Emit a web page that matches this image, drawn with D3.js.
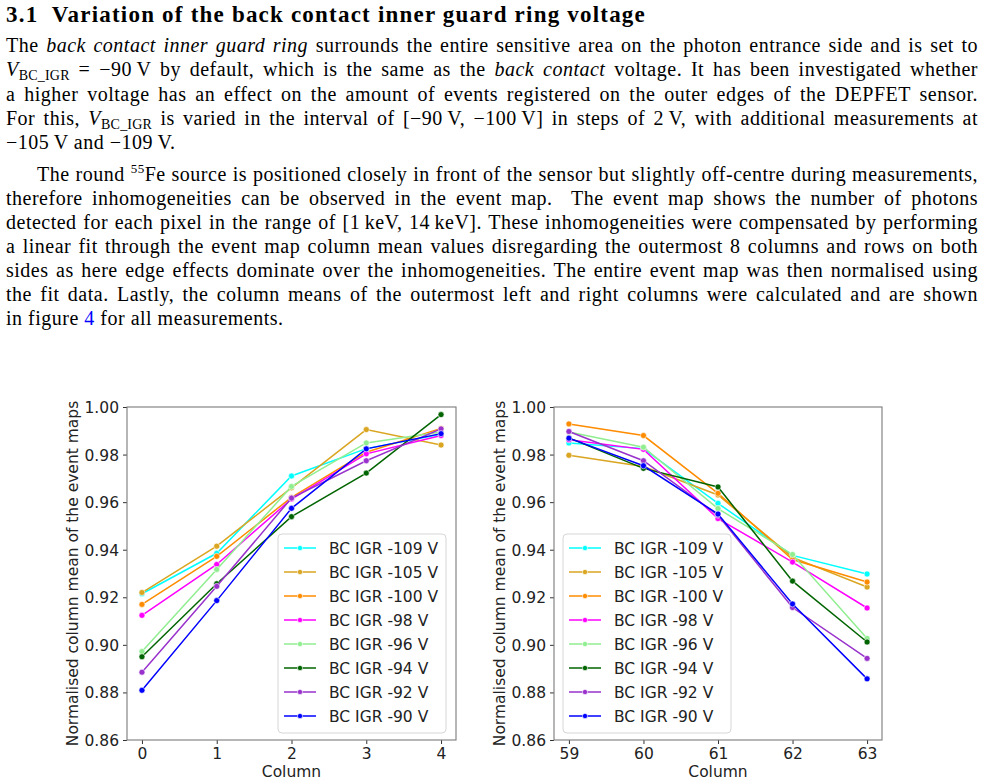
<!DOCTYPE html>
<html>
<head>
<meta charset="utf-8">
<script src="https://cdn.jsdelivr.net/npm/d3@7"></script>
<style>
    body { margin: 0; background: #fff; }
    #page { position: relative; width: 984px; height: 784px; overflow: hidden; }
    .txt { position: absolute; left: 6px; width: 972px; font-family: "Liberation Serif", serif; font-size: 20px; letter-spacing: 0.5px; color: #000; white-space: nowrap; }
    .just { text-align: justify; text-align-last: justify; }
    .txt sub { font-size: 14px; vertical-align: -4px; line-height: 0; letter-spacing: 0.2px; }
    .txt sup { font-size: 13px; vertical-align: 8px; line-height: 0; }
    h3 { position: absolute; left: 6px; top: 2px; margin: 0; font-family: "Liberation Serif", serif; font-size: 23px; font-weight: bold; white-space: nowrap; }
    #chart { position: absolute; left: 0; top: 0; }
    .tick text { font-family: "DejaVu Sans", sans-serif; font-size: 15.5px; fill: #222; }
</style>
</head>
<body>
<div id="page">
    <h3 id="head">3.1&nbsp; Variation of the back contact inner guard ring voltage</h3>
    <div class="txt fit" style="top:34px">The <i>back contact inner guard ring</i> surrounds the entire sensitive area on the photon entrance side and is set to</div>
    <div class="txt fit" style="top:58px"><i>V</i><sub>BC_IGR</sub> = &minus;90&thinsp;V by default, which is the same as the <i>back contact</i> voltage. It has been investigated whether</div>
    <div class="txt fit" style="top:83px">a higher voltage has an effect on the amount of events registered on the outer edges of the DEPFET sensor.</div>
    <div class="txt fit" style="top:107px">For this, <i>V</i><sub>BC_IGR</sub> is varied in the interval of [&minus;90&thinsp;V, &minus;100&thinsp;V] in steps of 2&thinsp;V, with additional measurements at</div>
    <div class="txt" style="top:131px">&minus;105&thinsp;V and &minus;109&thinsp;V.</div>

    <div class="txt fit" style="top:163px; left:37px; width:941px">The round <sup>55</sup>Fe source is positioned closely in front of the sensor but slightly off-centre during measurements,</div>
    <div class="txt fit" style="top:187px">therefore inhomogeneities can be observed in the event map.&nbsp; The event map shows the number of photons</div>
    <div class="txt fit" style="top:211px">detected for each pixel in the range of [1&thinsp;keV, 14&thinsp;keV]. These inhomogeneities were compensated by performing</div>
    <div class="txt fit" style="top:235px">a linear fit through the event map column mean values disregarding the outermost 8 columns and rows on both</div>
    <div class="txt fit" style="top:259px">sides as here edge effects dominate over the inhomogeneities. The entire event map was then normalised using</div>
    <div class="txt fit" style="top:283px">the fit data. Lastly, the column means of the outermost left and right columns were calculated and are shown</div>
    <div class="txt" style="top:307px">in figure <span style="color:#0000ff">4</span> for all measurements.</div>

    <svg id="chart" width="984" height="784"></svg>
</div>
<script>
// series (legend order)
const voltages = ["-109", "-105", "-100", "-98", "-96", "-94", "-92", "-90"]
const colors = ["#00ffff", "#daa520", "#ff8c00", "#ff00ff", "#90ee90", "#006400", "#9932cc", "#0000ff"]

const leftColumns = [0, 1, 2, 3, 4]
const rightColumns = [59, 60, 61, 62, 63]
const yTicks = [0.86, 0.88, 0.90, 0.92, 0.94, 0.96, 0.98, 1.00]

// normalised column means, one row per voltage
const leftMeans = [
    [0.9215, 0.9385, 0.9710, 0.9825, 0.9885],
    [0.9220, 0.9415, 0.9660, 0.9905, 0.9840],
    [0.9170, 0.9372, 0.9620, 0.9810, 0.9910],
    [0.9124, 0.9338, 0.9613, 0.9803, 0.9880],
    [0.8972, 0.9317, 0.9666, 0.9849, 0.9895],
    [0.8950, 0.9257, 0.9539, 0.9722, 0.9968],
    [0.8885, 0.9246, 0.9617, 0.9774, 0.9908],
    [0.8809, 0.9186, 0.9574, 0.9824, 0.9888]
]
const rightMeans = [
    [0.9849, 0.9825, 0.9595, 0.9376, 0.9298],
    [0.9797, 0.9750, 0.9630, 0.9368, 0.9243],
    [0.9929, 0.9880, 0.9637, 0.9359, 0.9264],
    [0.9862, 0.9822, 0.9531, 0.9348, 0.9155],
    [0.9895, 0.9831, 0.9573, 0.9380, 0.9027],
    [0.9870, 0.9742, 0.9664, 0.9268, 0.9012],
    [0.9897, 0.9774, 0.9545, 0.9157, 0.8943],
    [0.9869, 0.9753, 0.9550, 0.9172, 0.8857]
]

// squeeze the justified text lines so none of them overflows, then justify
function naturalWidth(el) {
    const r = document.createRange()
    r.selectNodeContents(el)
    return r.getBoundingClientRect().width
}
document.querySelectorAll(".fit").forEach(el => {
    const target = el.clientWidth
    const w = naturalWidth(el)
    if (w > target) {
        const n = el.textContent.length
        el.style.letterSpacing = (0.5 - (w - target + 4) / n) + "px"
    }
    el.classList.add("just")
})
// heading width as in the reference
const head = document.getElementById("head")
const hw = naturalWidth(head)
head.style.letterSpacing = ((640 - hw) / head.textContent.length) + "px"

const svg = d3.select("#chart")

function panel(box, columns, means) {
    const pad = (columns[columns.length - 1] - columns[0]) * 0.05
    const x = d3.scaleLinear()
        .domain([columns[0] - pad, columns[columns.length - 1] + pad])
        .range([box.left, box.right])
    const y = d3.scaleLinear().domain([0.86, 1.00]).range([box.bottom, box.top])

    const g = svg.append("g")

    // axes
    g.append("g")
        .attr("transform", `translate(0, ${box.bottom})`)
        .call(d3.axisBottom(x).tickValues(columns).tickFormat(d3.format("d")).tickSize(4).tickPadding(4))
        .call(a => a.select(".domain").remove())
        .call(a => a.selectAll("line").attr("stroke", "#333"))
    g.append("g")
        .attr("transform", `translate(${box.left}, 0)`)
        .call(d3.axisLeft(y).tickValues(yTicks).tickFormat(d3.format(".2f")).tickSize(4).tickPadding(4))
        .call(a => a.select(".domain").remove())
        .call(a => a.selectAll("line").attr("stroke", "#333"))
        .call(a => a.selectAll("text").attr("dy", "0.35em"))

    // frame
    g.append("rect")
        .attr("x", box.left).attr("y", box.top)
        .attr("width", box.right - box.left).attr("height", box.bottom - box.top)
        .attr("fill", "none").attr("stroke", "#7a7a7a").attr("stroke-width", 1.1)

    // lines + markers
    const line = d3.line().x((d, i) => x(columns[i])).y(d => y(d))
    means.forEach((row, k) => {
        g.append("path")
            .datum(row)
            .attr("d", line)
            .attr("fill", "none")
            .attr("stroke", colors[k])
            .attr("stroke-width", 1.5)
        g.selectAll(null).data(row).enter()
            .append("circle")
            .attr("cx", (d, i) => x(columns[i]))
            .attr("cy", d => y(d))
            .attr("r", 3)
            .attr("fill", colors[k])
            .attr("stroke", "#fff")
            .attr("stroke-width", 0.6)
    })

    // axis titles
    g.append("text")
        .attr("x", (box.left + box.right) / 2)
        .attr("y", box.bottom + 37)
        .attr("text-anchor", "middle")
        .style("font-family", "DejaVu Sans, sans-serif").style("font-size", "15.5px").attr("fill", "#222")
        .text("Column")
    g.append("text")
        .attr("transform", `translate(${box.left - 49}, ${(box.top + box.bottom) / 2}) rotate(-90)`)
        .attr("text-anchor", "middle")
        .style("font-family", "DejaVu Sans, sans-serif").style("font-size", "15.5px").attr("fill", "#222")
        .text("Normalised column mean of the event maps")

    // legend
    const lg = g.append("g").attr("transform", `translate(${box.legX}, ${box.legY})`)
    lg.append("rect")
        .attr("width", 168).attr("height", 199).attr("rx", 4)
        .attr("fill", "#fff").attr("fill-opacity", 0.85)
        .attr("stroke", "#d6d6d6")
    voltages.forEach((v, k) => {
        const cy = 14 + k * 24
        lg.append("line").attr("x1", 6).attr("x2", 38).attr("y1", cy).attr("y2", cy)
            .attr("stroke", colors[k]).attr("stroke-width", 1.5)
        lg.append("circle").attr("cx", 22).attr("cy", cy).attr("r", 2.6)
            .attr("fill", colors[k]).attr("stroke", "#fff").attr("stroke-width", 0.6)
        lg.append("text").attr("x", 51).attr("y", cy).attr("dy", "0.36em")
            .style("font-family", "DejaVu Sans, sans-serif").style("font-size", "15.5px").attr("fill", "#222")
            .text(`BC IGR ${v} V`)
    })
}

panel({ left: 127, right: 456, top: 407, bottom: 740, legX: 278, legY: 534 }, leftColumns, leftMeans)
panel({ left: 554, right: 882, top: 407, bottom: 740, legX: 563, legY: 534 }, rightColumns, rightMeans)
</script>
</body>
</html>
